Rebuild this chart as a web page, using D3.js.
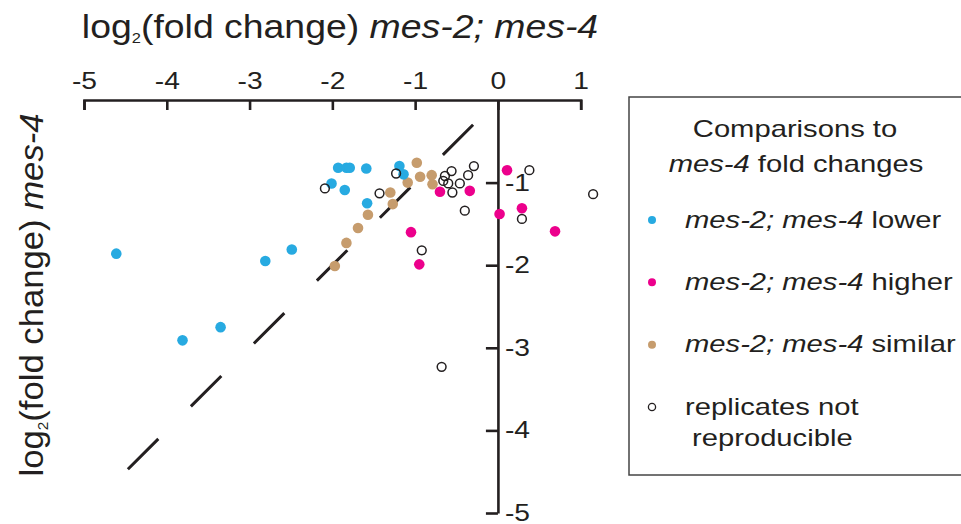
<!DOCTYPE html>
<html>
<head>
<meta charset="utf-8">
<title>mes-2; mes-4 vs mes-4 fold change</title>
<style>
  body { margin: 0; background: #fff; }
  svg { display: block; font-family: "Liberation Sans", Arial, Helvetica, sans-serif; }
</style>
</head>
<body>

<main></main>

<script src="https://cdn.jsdelivr.net/npm/d3@7/dist/d3.min.js"></script>
<script>
    // log2 fold changes: [mes-2; mes-4, mes-4]
    var lowerPts = [
        [-4.61, -1.86], [-3.81, -2.91], [-3.35, -2.75], [-2.81, -1.95], [-2.49, -1.81],
        [-1.93, -0.82], [-1.83, -0.82], [-1.79, -0.82], [-1.59, -0.83], [-2.01, -1.01],
        [-1.85, -1.09], [-1.58, -1.25], [-1.19, -0.80], [-1.14, -0.90]
    ];
    var higherPts = [
        [0.11, -0.85], [-0.70, -1.11], [-0.34, -1.10], [0.02, -1.38],
        [0.29, -1.31], [0.69, -1.59], [-1.05, -1.60], [-0.95, -1.99]
    ];
    var similarPts = [
        [-0.98, -0.76], [-0.94, -0.93], [-0.80, -0.91], [-0.79, -1.02], [-1.09, -1.00],
        [-1.30, -1.12], [-1.27, -1.26], [-1.57, -1.39], [-1.69, -1.55], [-1.83, -1.73],
        [-1.97, -2.01]
    ];
    var notReproPts = [
        [-2.09, -1.07], [-1.23, -0.89], [-1.43, -1.13], [-0.56, -0.86], [-0.64, -0.92],
        [-0.66, -0.98], [-0.60, -1.01], [-0.46, -1.01], [-0.55, -1.12], [-0.36, -0.91],
        [-0.29, -0.80], [-0.40, -1.34], [-0.92, -1.82], [0.38, -0.85], [1.15, -1.14],
        [0.29, -1.44], [-0.68, -3.23]
    ];
    var xTicks = [-5, -4, -3, -2, -1, 0, 1];
    var yTicks = [-1, -2, -3, -4, -5];
    var diagonal = [-4.47, -0.3];   // dashed y = x line
    var legendNames = ["lower", "higher", "similar"];

    var colors = { lower: "#27aae1", higher: "#ec008c", similar: "#c69c6d" };
    var ink = "#231f20";

    var width = 961,
        height = 524;
    var svg = d3.select("main").append("svg")
        .attr("width", width).attr("height", height);
    svg.append("rect").attr("width", width).attr("height", height).attr("fill", "#fff");

    var x = d3.scaleLinear().domain([-5, 1]).range([84, 580.7]);
    var y = d3.scaleLinear().domain([0, -5]).range([100, 513]);

    // the lettering in the figure is wider than the font, so stretch it along the baseline
    function place(t, px, py, sx, rot) {
        t.attr("transform", "translate(" + px + "," + py + ")" +
            (rot ? " rotate(" + rot + ")" : "") + " scale(" + sx + ",1)");
        return t;
    }
    var tickSX = 1.2;

    // x axis: labels above, ticks hanging down
    var gx = svg.append("g")
        .attr("transform", "translate(0," + y(0) + ")")
        .call(d3.axisTop(x).tickValues(xTicks).tickFormat(function (d) { return String(d); })
            .tickSizeInner(-10).tickSizeOuter(-10).tickPadding(11.5));

    // y axis sits on x = 0, ticks pointing left, labels right
    var gy = svg.append("g")
        .attr("transform", "translate(" + x(0) + ",0)")
        .call(d3.axisRight(y).tickValues(yTicks).tickFormat(function (d) { return String(d); })
            .tickSizeInner(-12).tickSizeOuter(0).tickPadding(7));

    [gx, gy].forEach(function (g) {
        g.attr("font-family", null).attr("font-size", 23.5);
        g.selectAll("path, line").attr("stroke", ink).attr("stroke-width", 2.6);
        g.selectAll("text").attr("fill", ink).attr("transform", "scale(" + tickSX + ",1)");
    });
    gy.selectAll("text").attr("x", 7 / tickSX);

    // dashed diagonal
    svg.append("line")
        .attr("x1", x(diagonal[0])).attr("y1", y(diagonal[0]))
        .attr("x2", x(diagonal[1])).attr("y2", y(diagonal[1]))
        .attr("stroke", ink).attr("stroke-width", 3)
        .attr("stroke-dasharray", "43,46");

    // points
    function dots(data, fill) {
        svg.append("g").selectAll("circle").data(data).enter().append("circle")
            .attr("cx", function (d) { return x(d[0]); })
            .attr("cy", function (d) { return y(d[1]); })
            .attr("r", 5.3)
            .attr("fill", fill);
    }
    dots(similarPts, colors.similar);
    dots(lowerPts, colors.lower);
    dots(higherPts, colors.higher);

    svg.append("g").selectAll("circle").data(notReproPts).enter().append("circle")
        .attr("cx", function (d) { return x(d[0]); })
        .attr("cy", function (d) { return y(d[1]); })
        .attr("r", 4.4)
        .attr("fill", "none").attr("stroke", ink).attr("stroke-width", 1.5);

    // axis titles
    var xt = svg.append("text").attr("text-anchor", "middle")
        .attr("font-size", 34).attr("fill", ink);
    xt.append("tspan").text("log");
    xt.append("tspan").attr("font-size", 15).attr("dy", 4.5).text("2");
    xt.append("tspan").attr("dy", -4.5).text("(fold change) ");
    xt.append("tspan").attr("font-style", "italic").text("mes-2; mes-4");
    place(xt, 340, 38, 1.1);

    var yt = svg.append("text").attr("text-anchor", "middle")
        .attr("font-size", 34).attr("fill", ink);
    yt.append("tspan").text("log");
    yt.append("tspan").attr("font-size", 15).attr("dy", 4.5).text("2");
    yt.append("tspan").attr("dy", -4.5).text("(fold change) ");
    yt.append("tspan").attr("font-style", "italic").text("mes-4");
    place(yt, 43, 295, 1.02, -90);

    // legend
    var legSX = 1.27;
    var lg = svg.append("g").attr("font-size", 23).attr("fill", ink);
    lg.append("rect")
        .attr("x", 629).attr("y", 97).attr("width", 360).attr("height", 378)
        .attr("fill", "#fff").attr("stroke", "#444").attr("stroke-width", 1.5);

    place(lg.append("text").attr("text-anchor", "middle").text("Comparisons to"), 795, 137, legSX);
    var l2 = lg.append("text").attr("text-anchor", "middle");
    l2.append("tspan").attr("font-style", "italic").text("mes-4");
    l2.append("tspan").text(" fold changes");
    place(l2, 796, 172, legSX);

    var rowY = d3.scalePoint().domain(legendNames.concat(["repro"])).range([220, 407]);
    legendNames.forEach(function (name) {
        lg.append("circle").attr("cx", 652).attr("cy", rowY(name)).attr("r", 4)
            .attr("fill", colors[name]);
        var t = lg.append("text");
        t.append("tspan").attr("font-style", "italic").text("mes-2; mes-4");
        t.append("tspan").text(" " + name);
        place(t, 685, rowY(name) + 7.5, legSX);
    });
    lg.append("circle").attr("cx", 652).attr("cy", rowY("repro")).attr("r", 3.6)
        .attr("fill", "none").attr("stroke", ink).attr("stroke-width", 1.3);
    place(lg.append("text").text("replicates not"), 685, rowY("repro") + 7.5, legSX);
    place(lg.append("text").text("reproducible"), 692, rowY("repro") + 38.5, legSX);
</script>
</body>
</html>
